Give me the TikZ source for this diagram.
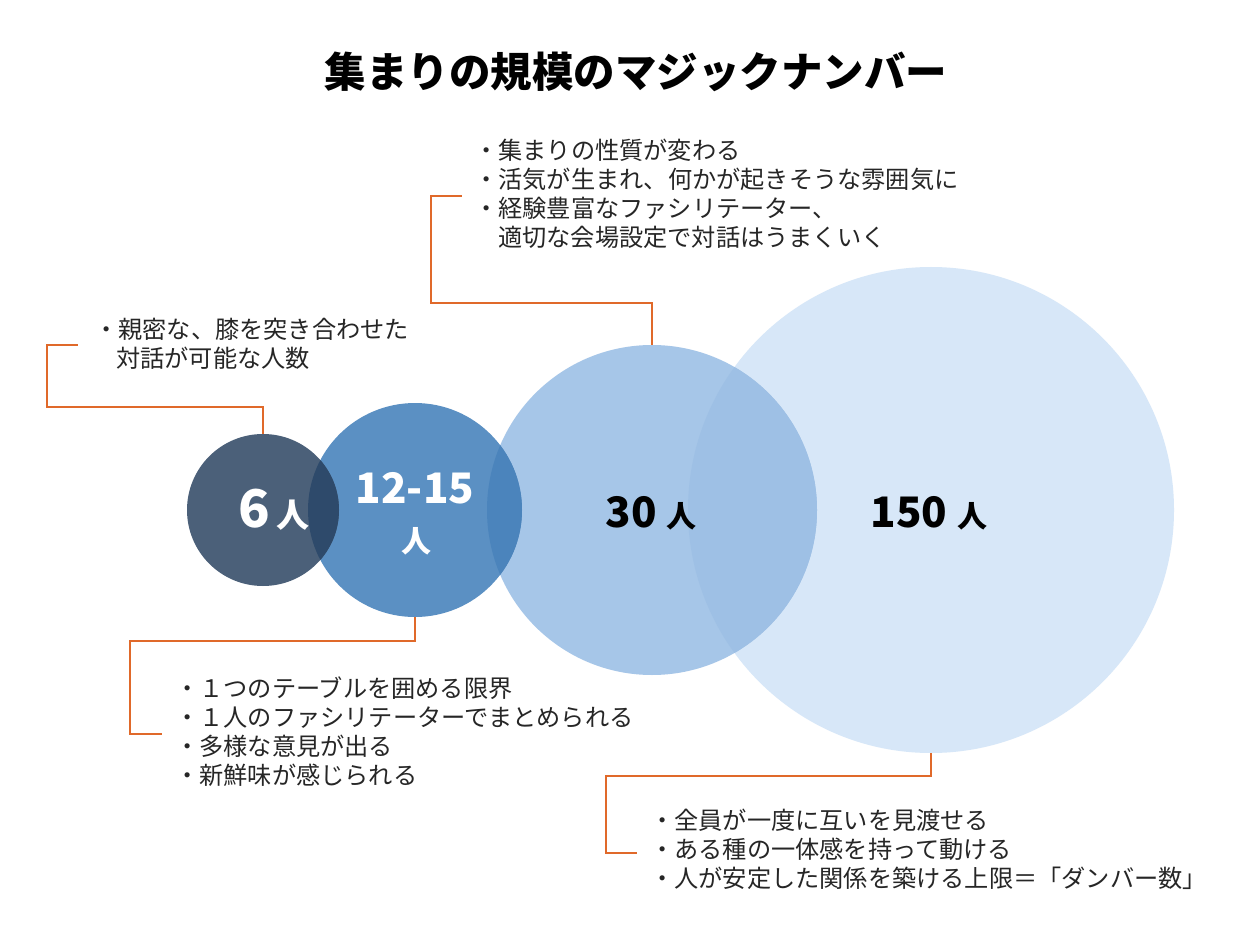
\documentclass[tikz,border=0pt]{standalone}
\usepackage{fontspec}
\newfontfamily\cjk{Noto Sans CJK JP}
\definecolor{cA}{HTML}{4B6079}
\definecolor{cB}{HTML}{5B90C3}
\definecolor{cC}{HTML}{A6C6E8}
\definecolor{cD}{HTML}{D7E7F8}
\definecolor{oAB}{HTML}{2E4A6B}
\definecolor{oBC}{HTML}{4B84BC}
\definecolor{oCD}{HTML}{9EC0E5}
\definecolor{lead}{HTML}{E0692A}
\begin{document}
\begin{tikzpicture}[x=1pt,y=-1pt,
  bubble/.style={circle,inner sep=0pt,draw=none},
  leadline/.style={draw=lead,line width=2.6pt},
  note/.style={font=\cjk\fontsize{24.2}{29}\selectfont,align=left,anchor=north west,inner sep=0pt,text=black!85},
  big/.style={font=\cjk\bfseries\fontsize{#1}{#1}\selectfont,inner sep=0pt}]
\useasboundingbox (0,0) rectangle (1248,936);
\fill[white] (0,0) rectangle (1248,936);
% circles
\node[bubble,fill=cD,minimum size=486pt] (c150) at (931,510) {};
\node[bubble,fill=cC,minimum size=330pt] (c30) at (652,510) {};
\node[bubble,fill=cB,minimum size=214pt] (c12) at (415,510) {};
\node[bubble,fill=cA,minimum size=152pt] (c6) at (263,510) {};
% overlaps
\begin{scope}
\clip (931,510) circle (243);
\fill[oCD] (652,510) circle (165);
\end{scope}
\begin{scope}
\clip (652,510) circle (165);
\fill[oBC] (415,510) circle (107);
\end{scope}
\begin{scope}
\clip (415,510) circle (107);
\fill[oAB] (263,510) circle (76);
\end{scope}
% labels in circles
\node[big=52,text=white,anchor=base] (n6) at (254,527) {6};
\node[big=33,text=white,anchor=base west] (p6) at (n6.base east) {\hspace{6pt}人};
\node[big=42,text=white,anchor=base] (n12) at (415,503) {12-15};
\node[big=30,text=white,anchor=base] (p12) at (416,552) {人};
\node[big=42,text=black,anchor=base] (n30) at (631,527) {30};
\node[big=30,text=black,anchor=base west] (p30) at (n30.base east) {\hspace{10pt}人};
\node[big=42,text=black,anchor=base] (n150) at (909,527) {150};
\node[big=30,text=black,anchor=base west] (p150) at (n150.base east) {\hspace{10pt}人};
% title
\node[font=\cjk\bfseries\fontsize{41.5}{41.5}\selectfont,inner sep=0pt] (title) at (636,72) {集まりの規模のマジックナンバー};
% notes
\node[note] (t6) at (94,318) {・親密な、膝を突き合わせた\\\hspace{22pt}対話が可能な人数};
\node[note] (t30) at (474,139) {・集まりの性質が変わる\\・活気が生まれ、何かが起きそうな雰囲気に\\・経験豊富なファシリテーター、\\\hspace{24pt}適切な会場設定で対話はうまくいく};
\node[note] (t12) at (175,677) {・１つのテーブルを囲める限界\\・１人のファシリテーターでまとめられる\\・多様な意見が出る\\・新鮮味が感じられる};
\node[note] (t150) at (650,809) {・全員が一度に互いを見渡せる\\・ある種の一体感を持って動ける\\・人が安定した関係を築ける上限＝「ダンバー数」};
% leader lines
\coordinate (e6) at (78,345);
\coordinate (e30) at (462,196);
\coordinate (e12) at (162,734);
\coordinate (e150) at (637,853);
\draw[leadline] (c6.north) -- (263,407) -- (47,407) -- (47,345) -- (e6);
\draw[leadline] (c30.north) -- (652,303) -- (431,303) -- (431,196) -- (e30);
\draw[leadline] (c12.south) -- (415,641) -- (130,641) -- (130,734) -- (e12);
\draw[leadline] (c150.south) -- (931,776) -- (606,776) -- (606,853) -- (e150);
\end{tikzpicture}
\end{document}
